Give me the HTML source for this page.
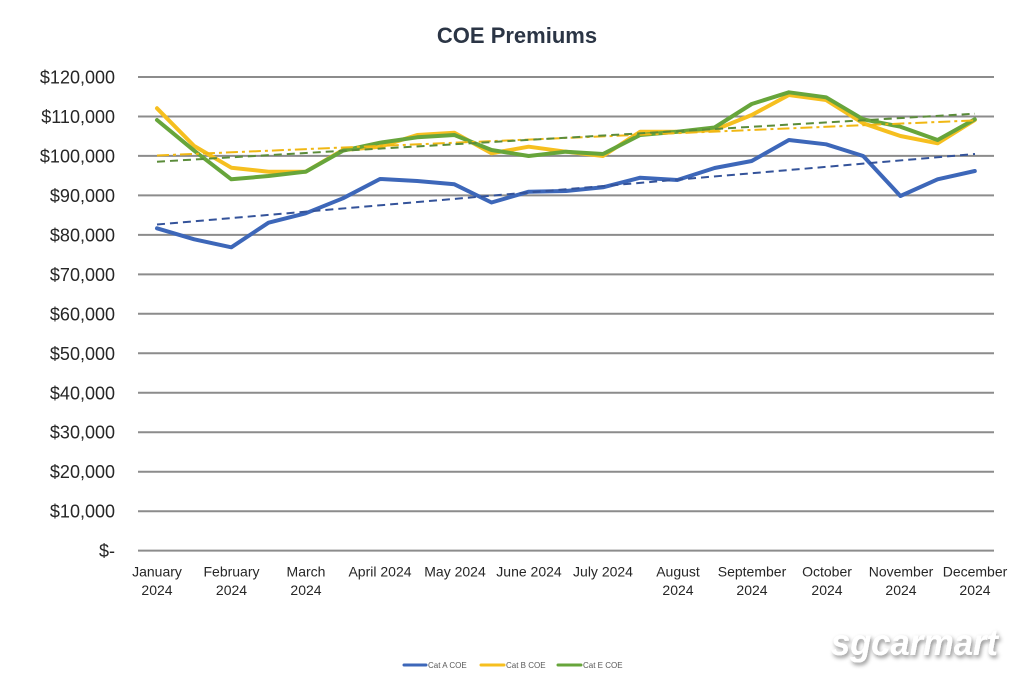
<!DOCTYPE html>
<html>
<head>
<meta charset="utf-8">
<style>
  html,body{margin:0;padding:0;background:#fff;}
  body{width:1024px;height:683px;overflow:hidden;}
  svg{display:block;}
  text{font-family:"Liberation Sans",Arial,sans-serif;}
</style>
</head>
<body>
<svg width="1024" height="683" viewBox="0 0 1024 683" xmlns="http://www.w3.org/2000/svg">
  <defs>
    <filter id="sh" x="-20%" y="-50%" width="140%" height="200%">
      <feDropShadow dx="1.5" dy="2.5" stdDeviation="2" flood-color="#000" flood-opacity="0.45"/>
    </filter>
  </defs>
  <rect width="1024" height="683" fill="#fff"/>

  <!-- Title -->
  <text x="517" y="43" text-anchor="middle" font-size="22" font-weight="bold" fill="#2b3545">COE Premiums</text>

  <!-- Gridlines -->
  <g stroke="#8c8c8c" stroke-width="2">
    <line x1="138" y1="77" x2="994" y2="77"/>
    <line x1="138" y1="116.5" x2="994" y2="116.5"/>
    <line x1="138" y1="155.9" x2="994" y2="155.9"/>
    <line x1="138" y1="195.4" x2="994" y2="195.4"/>
    <line x1="138" y1="234.9" x2="994" y2="234.9"/>
    <line x1="138" y1="274.4" x2="994" y2="274.4"/>
    <line x1="138" y1="313.8" x2="994" y2="313.8"/>
    <line x1="138" y1="353.3" x2="994" y2="353.3"/>
    <line x1="138" y1="392.8" x2="994" y2="392.8"/>
    <line x1="138" y1="432.2" x2="994" y2="432.2"/>
    <line x1="138" y1="471.7" x2="994" y2="471.7"/>
    <line x1="138" y1="511.2" x2="994" y2="511.2"/>
    <line x1="138" y1="550.6" x2="994" y2="550.6"/>
  </g>

  <!-- Y labels -->
  <g font-size="18" fill="#262626" text-anchor="end">
    <text x="115" y="83.5">$120,000</text>
    <text x="115" y="123">$110,000</text>
    <text x="115" y="162.4">$100,000</text>
    <text x="115" y="201.9">$90,000</text>
    <text x="115" y="241.4">$80,000</text>
    <text x="115" y="280.9">$70,000</text>
    <text x="115" y="320.3">$60,000</text>
    <text x="115" y="359.8">$50,000</text>
    <text x="115" y="399.3">$40,000</text>
    <text x="115" y="438.7">$30,000</text>
    <text x="115" y="478.2">$20,000</text>
    <text x="115" y="517.7">$10,000</text>
    <text x="115" y="557.1">$-</text>
  </g>

  <!-- X labels -->
  <g font-size="14" fill="#262626" text-anchor="middle">
    <text x="157" y="576.5">January</text><text x="157" y="595">2024</text>
    <text x="231.5" y="576.5">February</text><text x="231.5" y="595">2024</text>
    <text x="306" y="576.5">March</text><text x="306" y="595">2024</text>
    <text x="380" y="576.5">April 2024</text>
    <text x="455" y="576.5">May 2024</text>
    <text x="529" y="576.5">June 2024</text>
    <text x="603" y="576.5">July 2024</text>
    <text x="678" y="576.5">August</text><text x="678" y="595">2024</text>
    <text x="752" y="576.5">September</text><text x="752" y="595">2024</text>
    <text x="827" y="576.5">October</text><text x="827" y="595">2024</text>
    <text x="901" y="576.5">November</text><text x="901" y="595">2024</text>
    <text x="975" y="576.5">December</text><text x="975" y="595">2024</text>
  </g>

  <!-- Series -->
  <g fill="none" stroke-width="4" stroke-linejoin="round" stroke-linecap="round">
    <!-- Cat A -->
    <polyline stroke="#3d67b9" points="157,228.3 194.2,239.3 231.3,247.3 268.5,222.7 305.7,213.3 342.9,198.3 380,179 417.2,181 454.4,184.3 491.5,202.5 528.7,191.7 565.9,191 603,187.3 640.2,177.7 677.4,180 714.6,168 751.7,161 788.9,140 826.1,144.3 863.2,156 900.4,196 937.6,179.3 974.8,171"/>
    <!-- Cat B -->
    <polyline stroke="#f6bf1f" points="157,108.3 194.2,146 231.3,167.7 268.5,171.7 305.7,171.7 342.9,150 380,146.7 417.2,135 454.4,132.7 491.5,153.3 528.7,146.7 565.9,151.7 603,156 640.2,131.7 677.4,131.7 714.6,130 751.7,115 788.9,95 826.1,100 863.2,123.3 900.4,136 937.6,143.3 974.8,120"/>
    <!-- Cat E -->
    <polyline stroke="#67a53b" points="157,120 194.2,150.7 231.3,179.3 268.5,176 305.7,171.7 342.9,150.7 380,142.7 417.2,137.3 454.4,135 491.5,150 528.7,156 565.9,151.7 603,154 640.2,135 677.4,131.7 714.6,127.5 751.7,104 788.9,92.3 826.1,97.3 863.2,119.3 900.4,126.7 937.6,140 974.8,119.3"/>
  </g>

  <!-- Trendlines -->
  <g fill="none" stroke-width="2">
    <line x1="157" y1="224.5" x2="975" y2="154" stroke="#34539a" stroke-dasharray="8,5"/>
    <line x1="157" y1="155.5" x2="975" y2="120.4" stroke="#f0b713" stroke-dasharray="12,4,3,4"/>
    <line x1="157" y1="161.7" x2="975" y2="113.7" stroke="#5b8c3a" stroke-dasharray="8,5"/>
  </g>

  <!-- Legend -->
  <g stroke-width="3" stroke-linecap="round">
    <line x1="404" y1="665" x2="426" y2="665" stroke="#3d67b9"/>
    <line x1="481" y1="665" x2="504" y2="665" stroke="#f6bf1f"/>
    <line x1="558" y1="665" x2="581" y2="665" stroke="#67a53b"/>
  </g>
  <g font-size="8" fill="#595959">
    <text x="428" y="668">Cat A COE</text>
    <text x="506" y="668">Cat B COE</text>
    <text x="583" y="668">Cat E COE</text>
  </g>

  <!-- Watermark -->
  <text x="831" y="655" font-size="37" font-weight="bold" font-style="italic" fill="#ffffff" filter="url(#sh)" textLength="167" lengthAdjust="spacingAndGlyphs">sgcarmart</text>
</svg>
</body>
</html>
